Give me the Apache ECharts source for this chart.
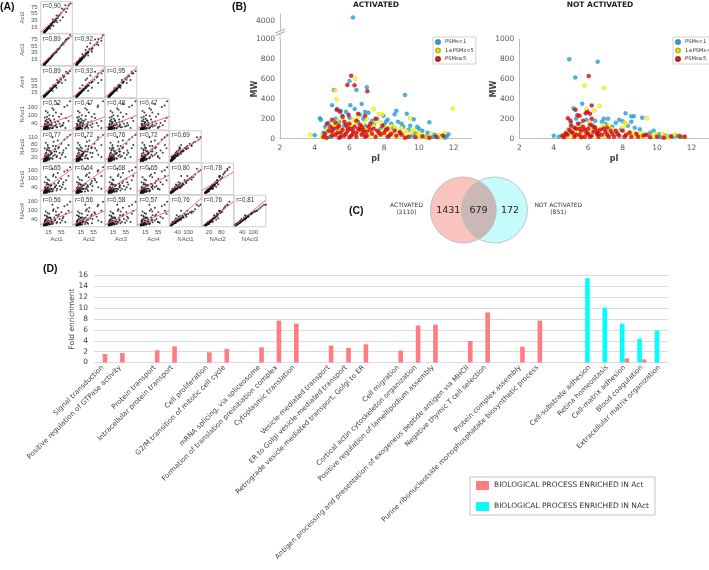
<!DOCTYPE html>
<html>
<head>
<meta charset="utf-8">
<script src="https://cdn.jsdelivr.net/npm/echarts@6/dist/echarts.min.js"></script>
<style>html,body{margin:0;padding:0;background:#fff}#main{width:709px;height:570px}</style>
</head>
<body>
<div id="main"></div>
<script>
// ---------- (A) scatterplot matrix: one value per protein and sample ----------
var matrixNames = ['Act1', 'Act2', 'Act3', 'Act4', 'NAct1', 'NAct2', 'NAct3', 'NAct4'];
var act1 = [2,4,1,6,3,8,5,10,2,7, 12,0,15,9,4,20,3,11,6,25, 1,14,8,18,30,5,13,2,22,35, 9,40,16,7,45,10,28,3,50,19, 12,55,24,6,33,60,17,4,38,70, 26,11,65,42,8,78,31,14,83,48, 20,5,57,36,12,74,23,44,9,62, 1,17,29,52,6,27,13,39,3,68];
var act2 = [3,3,1,7,4,9,5,11,2,6, 13,1,14,8,5,12,2,10,5,24, 2,16,7,17,20,6,12,3,25,33, 10,50,15,8,48,9,38,4,52,20, 14,58,22,7,30,45,18,4,40,60, 28,12,68,30,9,80,34,13,85,50, 19,4,70,38,11,70,21,42,8,65, 1,19,31,35,6,29,14,36,3,80];
var act3 = [2,5,2,6,3,8,6,9,1,7, 12,1,16,10,4,19,3,12,5,27, 1,13,8,19,31,5,14,2,21,36, 9,38,17,7,44,11,27,3,49,18, 12,57,25,6,34,63,16,5,39,74, 25,11,66,43,8,79,32,15,86,47, 21,5,58,35,13,75,22,46,9,60, 1,18,30,53,7,28,13,37,4,70];
var act4 = [2,4,1,5,3,7,6,10,2,8, 11,0,15,9,5,28,3,12,6,26, 1,14,8,18,38,4,13,3,22,34, 10,30,16,7,46,10,20,4,50,19, 13,56,24,7,33,70,17,4,37,82, 27,12,67,55,9,77,33,14,84,49, 20,5,45,37,12,76,23,45,9,63, 2,18,29,60,6,28,14,38,3,55];
var nact1 = [5,8,3,10,2,15,6,20,12,4, 9,1,30,2,25,12,40,5,18,35, 7,48,10,8,20,60,15,4,60,25, 28,15,75,3,55,90,10,20,40,35, 6,110,45,14,70,30,100,9,120,80, 8,40,160,15,55,60,140,22,200,90, 65,35,25,50,120,170,28,180,70,45, 15,5,95,20,130,150,50,35,85,10];
var nact2 = [4,6,2,12,5,10,8,14,8,3, 18,1,22,4,15,16,25,7,12,40, 5,30,20,10,25,35,12,6,45,30, 22,20,50,2,60,55,12,15,38,28, 8,80,35,9,45,40,60,11,70,60, 15,30,100,25,40,75,90,18,120,65, 45,25,30,55,75,110,35,95,50,50, 12,8,70,15,85,110,65,45,60,20];
var nact3 = [6,7,2,9,4,14,5,18,10,6, 15,2,25,3,20,14,35,6,22,30, 9,40,12,9,28,45,18,3,55,40, 26,18,60,4,70,70,15,18,50,30, 7,100,55,12,65,60,90,8,110,90, 12,35,150,30,35,120,130,20,180,85, 50,28,40,45,95,160,30,140,60,75, 10,12,120,25,110,170,60,55,75,30];
var nact4 = [5,9,3,11,3,12,7,16,9,5, 12,1,20,5,18,10,30,8,15,28, 6,35,10,7,22,40,14,4,50,35, 20,15,55,3,65,60,12,22,45,32, 6,90,40,10,55,50,80,7,95,80, 10,30,130,25,45,100,110,17,160,75, 55,32,35,40,85,140,25,120,65,60, 14,9,100,20,95,140,50,70,70,25];
// correlation per cell, row by row (Act2 ... NAct4)
var rValues = [
    [0.90],
    [0.89, 0.92],
    [0.89, 0.93, 0.95],
    [0.52, 0.47, 0.48, 0.47],
    [0.77, 0.72, 0.76, 0.72, 0.69],
    [0.65, 0.64, 0.68, 0.65, 0.80, 0.78],
    [0.56, 0.56, 0.58, 0.57, 0.76, 0.76, 0.81]
];
// fitted line per cell: [x0, y0, x1, y1]
var fitLines = [
    [[-10,1,90,87]],
    [[-10,-2,90,85], [-10,0,90,88]],
    [[-10,-1,90,95], [-10,-1,90,95], [-10,-1,90,97]],
    [[-10,18,90,100], [-10,7,90,88], [-10,11,90,100], [-10,7,90,93]],
    [[-10,6,90,128], [-10,4,90,125], [-10,5,90,130], [-10,4,90,122], [-5,21,175,104]],
    [[-10,12,90,170], [-10,10,90,165], [-10,12,90,147], [-10,12,90,125], [-5,12,175,163], [-14,19,140,147]],
    [[-10,7,90,94], [-10,5,90,99], [-10,5,90,110], [-10,5,90,101], [-5,1,175,182], [-14,-4,140,160], [-5,-4,170,171]]
];
var xTickValues = {Act1: [15, 55], Act2: [15, 55], Act3: [15, 55], Act4: [15, 55], NAct1: [40, 100], NAct2: [20, 80], NAct3: [40, 100]};
var yTickValues = {Act2: [15, 35, 55, 75], Act3: [15, 35, 55, 75], Act4: [15, 35, 55], NAct1: [40, 100, 160], NAct2: [20, 50, 80, 110], NAct3: [40, 100, 160], NAct4: [40, 100, 160]};

// ---------- (B) pI / MW ----------
var psmNames = ['PSMs<1', '1≤PSMs<5', 'PSMs≥5'];
var actLow = [[6.2,4100],[6.0,580],[6.4,490],[5.1,490],[7.0,517],[9.2,440],[6.7,350],[5.0,337],[6.05,337],[5.3,300],[4.3,205],[4.35,190],[10.6,165],[9.7,195],[9.3,250],[8.7,280],[8.6,245],[7.95,230],[4.0,35],
    [5.5,280],[5.8,270],[6.3,300],[6.9,270],[7.1,260],[5.6,230],[6.6,240],[7.6,200],[8.2,190],[8.8,170],[9.0,150],[9.9,120],[10.2,80],[10.5,60],[10.9,40],[11.3,30],[11.6,25],[4.6,120],[4.8,160],[5.2,200],[7.3,180],[8.0,140],[8.5,110],[9.4,90],[9.8,50],[10.8,20],[11.7,45],[4.5,60],[5.7,130],[6.5,170],[7.8,100],[8.9,70],[9.6,30],
    [5.0,100],[5.4,170],[6.0,210],[6.8,200],[7.4,150],[8.1,170],[8.4,150],[9.1,120],[9.5,130],[10.0,100],[10.4,20],[11.1,15],[11.5,10],[6.9,130],[4.9,20]];
var actMid = [[6.34,604],[5.17,487],[5.26,396],[7.38,299],[11.95,305],[9.5,205],[7.7,250],[3.73,40],[7.9,240],
    [4.4,30],[4.7,90],[5.0,150],[5.3,180],[5.6,210],[5.9,160],[6.2,190],[6.5,220],[6.8,150],[7.0,200],[7.2,130],[7.5,170],[7.8,160],[8.1,120],[8.4,130],[8.7,90],[9.0,110],[9.3,80],[9.6,60],[9.9,40],[10.3,30],[10.7,50],[11.1,35],[11.5,55],[4.9,60],[5.4,80],[6.0,100],[6.6,70],[7.3,60],[8.0,40],[8.8,20],[10.1,15],[5.7,45],[6.9,95],[7.6,30],[8.3,75],[9.1,55],[10.5,10],[11.3,15],
    [4.6,10],[5.1,40],[5.5,110],[5.8,70],[6.3,40],[6.7,110],[7.1,20],[7.4,130],[7.9,80],[8.5,40],[9.2,20],[9.7,90],[10.0,60],[5.2,130],[6.1,130],[6.4,160],[8.6,110]];
var actHigh = [[6.1,634],[5.88,540],[6.29,537],[7.03,477],[5.26,290],[5.45,270],[6.5,250],[6.9,230],[5.95,240],[7.5,200],
    [4.5,20],[4.6,50],[4.8,80],[4.9,120],[5.0,30],[5.1,100],[5.2,160],[5.3,60],[5.4,130],[5.5,20],[5.6,90],[5.7,170],[5.8,50],[5.9,110],[6.0,150],[6.1,30],[6.2,80],[6.3,120],[6.4,60],[6.5,100],[6.6,140],[6.7,40],[6.8,90],[6.9,20],[7.0,70],[7.1,120],[7.3,50],[7.4,100],[7.6,80],[7.8,40],[8.0,60],[8.2,20],[8.4,50],[8.7,30],[9.0,40],[9.4,20],[9.8,15],[10.2,25],[10.6,10],[11.0,20],[11.4,30],[5.0,190],[5.6,220],[6.4,180],[7.9,130],[8.6,80],
    [4.7,10],[5.0,70],[5.2,40],[5.4,10],[5.5,60],[5.7,30],[5.9,80],[6.0,15],[6.2,50],[6.4,20],[6.6,90],[6.8,60],[7.0,30],[7.2,90],[7.5,20],[7.7,60],[8.1,90],[8.3,30],[8.9,60],[9.2,10],[5.3,110],[6.1,100],[6.7,120],[5.8,140],[4.7,150],[7.2,150],[8.2,100]];
var nactLow = [[4.9,800],[6.55,775],[5.25,615],[5.65,352],[5.15,305],[8.17,255],[8.5,225],[8.65,225],[9.13,212],[6.9,201],[7.15,200],[4.0,30],
    [7.8,190],[8.0,175],[8.3,130],[8.7,110],[9.0,95],[9.6,60],[10.1,45],[10.5,30],[10.9,20],[4.3,20],[4.7,60],[5.5,150],[6.2,140],[7.4,120],[7.9,90],[9.3,40],[6.8,170],[5.9,190],
    [5.0,160],[5.3,200],[6.4,180],[7.0,150],[7.6,160],[8.5,170],[9.8,80],[10.2,15],[11.1,30],[11.4,20]];
var nactMid = [[5.8,535],[6.9,510],[6.65,330],[6.35,282],[5.9,299],[9.4,205],[8.1,160],[8.2,150],[11.0,40],[11.6,25],
    [4.5,40],[4.8,90],[5.1,120],[5.4,70],[5.6,130],[5.9,100],[6.1,160],[6.4,120],[6.6,80],[6.9,140],[7.1,60],[7.4,100],[7.7,50],[8.0,110],[8.4,70],[8.8,40],[9.1,60],[9.5,30],[9.9,20],[10.3,50],[10.7,15],[11.3,30],[5.0,20],[6.0,40],[7.0,25],[8.6,20],[10.0,35],
    [4.7,20],[5.2,50],[5.5,15],[5.8,50],[6.2,80],[6.5,20],[6.8,110],[7.2,130],[7.6,70],[8.2,30],[8.6,60],[9.0,15],[9.8,50],[10.5,25]];
var nactHigh = [[6.03,630],[6.2,335],[5.26,292],[5.85,255],[5.37,235],[4.82,205],[4.97,181],[5.95,270],[5.5,230],[6.1,250],[11.6,20],[11.3,25],
    [4.5,30],[4.7,50],[4.9,90],[5.0,130],[5.1,60],[5.2,20],[5.3,100],[5.4,150],[5.5,40],[5.6,80],[5.7,120],[5.8,20],[5.9,60],[6.0,100],[6.1,140],[6.2,30],[6.3,70],[6.4,110],[6.5,50],[6.6,20],[6.7,90],[6.8,40],[7.0,70],[7.1,110],[7.2,20],[7.4,50],[7.6,80],[7.8,30],[8.0,80],[8.2,40],[8.5,20],[8.8,50],[9.2,30],[9.6,15],[10.0,20],[10.4,10],[10.8,25],
    [4.6,15],[4.8,40],[5.0,70],[5.2,110],[5.3,40],[5.5,100],[5.6,15],[5.8,90],[6.0,50],[6.1,20],[6.3,120],[6.5,80],[6.6,50],[6.9,100],[7.1,40],[7.3,80],[7.5,20],[7.7,50],[8.1,20],[8.4,60],[8.9,20],[9.4,40],[5.7,180],[6.2,200]];

// ---------- (C) Venn ----------
var vennCounts = [1431, 679, 172];
var vennTotals = [2110, 851];

// ---------- (D) GO enrichment ----------
var processNames = ['Signal transduction', 'Positive regulation of GTPase activity', '', 'Protein transport', 'Intracellular protein transport', '',
    'Cell proliferation', 'G2/M transition of mitotic cell cycle', '', 'mRNA splicing, via spliceosome', 'Formation of translation preinitiation complex',
    'Cytoplasmic translation', '', 'Vesicle-mediated transport', 'ER to Golgi vesicle-mediated transport', 'Retrograde vesicle-mediated transport, Golgi to ER', '',
    'Cell migration', 'Cortical actin cytoskeleton organization', 'Positive regulation of lamellipodium assembly', '',
    'Antigen processing and presentation of exogeneus peptide antigen via MHCII', 'Negative thymic T cell selection', '',
    'Protein complex assembly', 'Purine ribonucleotside monophosphatate biosynthetic process', '', '',
    'Cell-substrate adhesion', 'Retina homeostasis', 'Cell-matrix adhesion', 'Blood coagulation', 'Extracellular matrix organization'];
var actFold = [1.56,1.75,null,2.24,2.98,null,1.87,2.48,null,2.79,7.7,7.15,null,3.1,2.67,3.34,null,2.2,6.8,6.96,null,3.96,9.2,null,2.9,7.7,null,null,null,null,0.77,0.58,null];
var nactFold = [null,null,null,null,null,null,null,null,null,null,null,null,null,null,null,null,null,null,null,null,null,null,null,null,null,null,null,null,15.5,10.1,7.15,4.4,5.86];
var actName = 'BIOLOGICAL PROCESS ENRICHED IN Act';
var nactName = 'BIOLOGICAL PROCESS ENRICHED IN NAct';
</script>
<script>
(function () {
    var grids = [], xAxes = [], yAxes = [], seriesList = [], graphics = [], legends = [];

    function addGrid(g, xa, ya) {
        g.outerBoundsMode = 'none';
        grids.push(g);
        var i = grids.length - 1;
        xa.gridIndex = i;
        ya.gridIndex = i;
        xa.nameMoveOverlap = false;
        ya.nameMoveOverlap = false;
        xAxes.push(xa);
        yAxes.push(ya);
        return i;
    }
    function txt(x, y, text, font, fill, align) {
        graphics.push({type: 'text', x: x, y: y, silent: true,
            style: {text: text, font: font, fill: fill || '#222', align: align || 'left', verticalAlign: 'middle'}});
    }
    function plain(v) {
        return String(v);
    }

    // ----- panel A -----
    var matrixData = [act1, act2, act3, act4, nact1, nact2, nact3, nact4];
    var xExtent = {Act1: [-10, 90], Act2: [-10, 90], Act3: [-10, 90], Act4: [-10, 90], NAct1: [-5, 175], NAct2: [-14, 140], NAct3: [-5, 170]};
    var yExtent = {Act2: [-2, 90], Act3: [-2, 90], Act4: [-3, 100], NAct1: [-5, 220], NAct2: [-4, 140], NAct3: [-10, 210], NAct4: [-8, 204]};
    var smallFont = {fontFamily: 'Liberation Sans', fontSize: 6, color: '#555'};
    for (var r = 1; r < 8; r++) {
        for (var c = 0; c < r; c++) {
            var xName = matrixNames[c], yName = matrixNames[r];
            var cellX = 40.7 + c * 32.25, cellY = 1.7 + (r - 1) * 32.25;
            var gi = addGrid(
                {left: cellX, top: cellY, width: 31.6, height: 31.6, show: true, borderColor: '#cdcdcd', borderWidth: 1, backgroundColor: '#fff'},
                {type: 'value', min: xExtent[xName][0], max: xExtent[xName][1], splitLine: {show: false}, axisLine: {show: false}, axisTick: {show: false},
                    axisLabel: r === 7 ? {customValues: xTickValues[xName], margin: 3, fontFamily: 'Liberation Sans', fontSize: 6, color: '#555'} : {show: false},
                    name: r === 7 ? xName : '', nameLocation: 'middle', nameGap: 10, nameTextStyle: smallFont},
                {type: 'value', min: yExtent[yName][0], max: yExtent[yName][1], splitLine: {show: false}, axisLine: {show: false}, axisTick: {show: false},
                    axisLabel: c === 0 ? {customValues: yTickValues[yName], margin: 3, fontFamily: 'Liberation Sans', fontSize: 6, color: '#555'} : {show: false},
                    name: c === 0 ? yName : '', nameLocation: 'middle', nameRotate: 90, nameGap: 15, nameTextStyle: smallFont});
            var pts = [];
            for (var k = 0; k < matrixData[c].length; k++) {
                pts.push([matrixData[c][k], matrixData[r][k]]);
            }
            seriesList.push({type: 'scatter', xAxisIndex: gi, yAxisIndex: gi, data: pts, symbolSize: 2, silent: true,
                itemStyle: {color: '#111'}});
            var f = fitLines[r - 1][c];
            seriesList.push({type: 'line', xAxisIndex: gi, yAxisIndex: gi, data: [[f[0], f[1]], [f[2], f[3]]], symbol: 'none', silent: true,
                lineStyle: {color: '#ee5a78', width: 0.9}});
            txt(cellX + 2, cellY + 5, 'r=' + rValues[r - 1][c].toFixed(2).replace('.', ','), '6.3px "Liberation Sans"', '#333');
        }
    }

    // ----- panel B -----
    var psmColors = ['#1ba1e2', '#ffff00', '#e3000f'];
    var psmBorders = ['#1582b8', '#a9a900', '#9c0000'];
    var axisGray = '#bfbfbf';
    function bxAxis() {
        return {type: 'value', min: 2, max: 13, interval: 2, splitLine: {show: false},
            axisLine: {show: true, onZero: false, lineStyle: {color: axisGray}}, axisTick: {show: false},
            axisLabel: {margin: 5, showMaxLabel: false, fontSize: 7.5, color: '#595959', formatter: plain},
            name: 'pI', nameLocation: 'middle', nameGap: 16, nameTextStyle: {fontSize: 8, fontWeight: 'bold', color: '#404040'}};
    }
    function byAxis() {
        return {type: 'value', min: 0, max: 1000, interval: 200, splitLine: {show: false},
            axisLine: {show: true, lineStyle: {color: axisGray}}, axisTick: {show: false},
            axisLabel: {margin: 5, fontSize: 7.5, color: '#595959', formatter: plain},
            name: 'MW', nameLocation: 'middle', nameRotate: 90, nameGap: 21, nameTextStyle: {fontSize: 8, fontWeight: 'bold', color: '#404040'}};
    }
    function psmSeries(gi, sets, keep) {
        for (var s = 0; s < 3; s++) {
            seriesList.push({type: 'scatter', name: psmNames[s], xAxisIndex: gi, yAxisIndex: gi, symbolSize: 4,
                data: sets[s].filter(keep),
                itemStyle: {color: psmColors[s], borderColor: psmBorders[s], borderWidth: 0.4}});
        }
    }
    var b1 = addGrid({left: 280, top: 39.3, width: 191, height: 99.4}, bxAxis(), byAxis());
    psmSeries(b1, [actLow, actMid, actHigh], function (p) { return p[1] <= 1000; });
    var b1top = addGrid({left: 280, top: 14, width: 191, height: 17},
        {type: 'value', min: 2, max: 13, show: false},
        {type: 'value', min: 3700, max: 4200, splitLine: {show: false}, axisLine: {show: true, lineStyle: {color: axisGray}}, axisTick: {show: false},
            axisLabel: {customValues: [4000], margin: 5, fontSize: 7.5, color: '#595959', formatter: plain}});
    psmSeries(b1top, [actLow, actMid, actHigh], function (p) { return p[1] > 1000; });
    var b2 = addGrid({left: 519.3, top: 39.3, width: 189.5, height: 99.4}, bxAxis(), byAxis());
    psmSeries(b2, [nactLow, nactMid, nactHigh], function (p) { return true; });

    // axis break marks
    graphics.push({type: 'line', silent: true, shape: {x1: 280, y1: 33.5, x2: 280, y2: 39.3}, style: {stroke: axisGray, lineWidth: 1}});
    graphics.push({type: 'line', silent: true, shape: {x1: 275.5, y1: 33, x2: 285, y2: 29}, style: {stroke: '#8c8c8c', lineWidth: 0.8}});
    graphics.push({type: 'line', silent: true, shape: {x1: 275.5, y1: 35.5, x2: 285, y2: 31.5}, style: {stroke: '#8c8c8c', lineWidth: 0.8}});
    txt(376, 5.5, 'ACTIVATED', 'bold 7.5px "DejaVu Sans"', '#222', 'center');
    txt(600, 5.5, 'NOT ACTIVATED', 'bold 7.5px "DejaVu Sans"', '#222', 'center');
    [433, 673].forEach(function (lx) {
        legends.push({left: lx, top: 37, orient: 'vertical', data: psmNames, selectedMode: false, icon: 'circle',
            itemWidth: 4, itemHeight: 4, itemGap: 2.5, padding: [2, 2, 2, 2],
            borderColor: '#bdbdbd', borderWidth: 0.7, backgroundColor: '#fff',
            textStyle: {fontSize: 5.2, color: '#333'}});
    });

    // ----- panel C -----
    var vc = 210, vr = 33, vx1 = 463.3, vx2 = 494.5;
    var vth = Math.acos((vx2 - vx1) / 2 / vr);
    var lens = [];
    for (var i = 0; i <= 24; i++) {
        var a = -vth + 2 * vth * i / 24;
        lens.push([vx1 + vr * Math.cos(a), vc + vr * Math.sin(a)]);
    }
    for (var j = 0; j <= 24; j++) {
        var b = Math.PI - vth + 2 * vth * j / 24;
        lens.push([vx2 + vr * Math.cos(b), vc - vr * Math.sin(b)]);
    }
    graphics.push({type: 'circle', silent: true, shape: {cx: vx1, cy: vc, r: vr}, style: {fill: '#f9c3be'}});
    graphics.push({type: 'circle', silent: true, shape: {cx: vx2, cy: vc, r: vr}, style: {fill: '#c6fbfb'}});
    graphics.push({type: 'polygon', silent: true, shape: {points: lens}, style: {fill: '#cab8b6'}});
    graphics.push({type: 'circle', silent: true, shape: {cx: vx1, cy: vc, r: vr}, style: {fill: null, stroke: '#b9b9b9', lineWidth: 0.8}});
    graphics.push({type: 'circle', silent: true, shape: {cx: vx2, cy: vc, r: vr}, style: {fill: null, stroke: '#b9b9b9', lineWidth: 0.8}});
    txt(448.3, 211, String(vennCounts[0]), '9.5px "DejaVu Sans"', '#222', 'center');
    txt(478.6, 211, String(vennCounts[1]), '9.5px "DejaVu Sans"', '#222', 'center');
    txt(510, 211, String(vennCounts[2]), '9.5px "DejaVu Sans"', '#222', 'center');
    txt(406.5, 205.5, 'ACTIVATED', '6px "DejaVu Sans"', '#333', 'center');
    txt(406.5, 212.5, '(' + vennTotals[0] + ')', '6px "DejaVu Sans"', '#333', 'center');
    txt(558.3, 205.5, 'NOT ACTIVATED', '6px "DejaVu Sans"', '#333', 'center');
    txt(558.3, 212.5, '(' + vennTotals[1] + ')', '6px "DejaVu Sans"', '#333', 'center');

    // ----- panel D -----
    var gd = addGrid({left: 94, top: 275.5, width: 574, height: 87},
        {type: 'category', data: processNames, axisLine: {show: false}, axisTick: {show: false},
            axisLabel: {interval: 0, rotate: 45, margin: 4, fontSize: 7, color: '#404040'}},
        {type: 'value', min: 0, max: 16, interval: 2, axisLine: {show: false}, axisTick: {show: false},
            splitLine: {lineStyle: {color: '#dcdcdc', width: 1}},
            axisLabel: {margin: 6, fontSize: 7.5, color: '#404040'},
            name: 'Fold enrichment', nameLocation: 'middle', nameRotate: 90, nameGap: 18, nameTextStyle: {fontSize: 7.5, color: '#404040'}});
    seriesList.push({type: 'bar', name: nactName, xAxisIndex: gd, yAxisIndex: gd, data: nactFold, barWidth: 4.6, barGap: '0%',
        itemStyle: {color: '#00ffff'}});
    seriesList.push({type: 'bar', name: actName, xAxisIndex: gd, yAxisIndex: gd, data: actFold, barWidth: 4.6, barGap: '0%',
        itemStyle: {color: '#ff7c80'}});
    legends.push({left: 470, top: 477, orient: 'vertical', data: [actName, nactName], selectedMode: false, icon: 'rect',
        itemWidth: 13, itemHeight: 9, itemGap: 12, padding: [4, 6, 4, 6],
        borderColor: '#c4c4c4', borderWidth: 1, backgroundColor: '#fff',
        textStyle: {fontSize: 7.5, color: '#333'}});

    // panel letters
    txt(0, 7, '(A)', 'bold 10.5px "Liberation Sans"', '#111');
    txt(232, 7, '(B)', 'bold 10.5px "Liberation Sans"', '#111');
    txt(349, 211, '(C)', 'bold 10.5px "Liberation Sans"', '#111');
    txt(43, 269, '(D)', 'bold 10.5px "Liberation Sans"', '#111');

    var myChart = echarts.init(document.getElementById('main'));
    var option = {
        animation: false,
        backgroundColor: '#fff',
        textStyle: {fontFamily: 'DejaVu Sans'},
        grid: grids,
        xAxis: xAxes,
        yAxis: yAxes,
        legend: legends,
        graphic: graphics,
        series: seriesList
    };
    myChart.setOption(option);
    window.addEventListener('resize', function () {
        myChart.resize();
    });
})();
</script>
</body>
</html>
